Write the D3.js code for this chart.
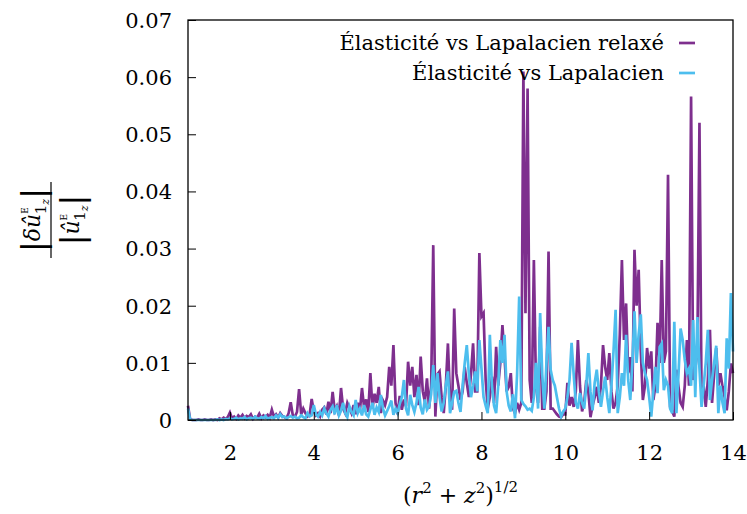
<!DOCTYPE html>
<html lang="fr">
<head>
    <meta charset="UTF-8">
    <script src="https://d3js.org/d3.v7.min.js"></script>
    <title>Elasticite</title>
    <style>
        body{ margin:0; background:#fff; }
        svg text{ font-family: "DejaVu Serif", "Liberation Serif", serif !important; fill:#000; }
    </style>
</head>
<body>
    <script>
        // sampling of (r^2+z^2)^(1/2): 1 to 14, step 0.05
        const xs = d3.range(261).map(i => 1 + i * 0.05);

        // values in units of 1e-3
        const relaxedMilli = [
            2.5,0.2,0,0,0,0.1,0,0,0.1,0,0,0.1,0,0.1,0,0.3,0.1,0.4,0.2,0.5,
            1.3,0.3,0.6,0.2,0.8,0.4,0.9,0.3,0.7,0.5,1.0,0.2,0.6,0.4,1.1,0.3,0.8,0.5,0.9,0.4,
            1.8,0.6,1.0,0.4,1.2,0.7,0.5,0.3,1.2,3.1,0.8,0.6,1.4,5.4,1.0,2.0,1.2,0.6,0.9,3.7,
            1.5,0.8,1.2,0.6,1.8,2.2,1.0,3.2,1.2,4.9,1.6,2.4,0.8,5.6,2.0,1.2,3.0,2.1,1.2,2.6,
            1.0,3.0,1.6,5.6,2.2,3.6,1.4,8.2,2.0,4.6,3.0,5.8,1.2,3.4,2.6,4.0,9.3,6.0,13.1,3.0,
            1.0,4.2,1.8,3.6,2.4,10.2,6.0,9.3,4.0,7.9,2.6,11.1,5.0,3.2,7.3,2.0,6.0,30.6,0.6,8.0,
            8.5,4.0,1.2,6.0,13.4,4.0,1.8,19.5,8.2,6.0,3.5,5.0,9.3,6.5,4.0,8.0,13.4,5.0,5.0,29.2,
            18.1,18.7,7.0,2.0,4.0,7.6,3.0,12.8,6.0,10.0,16.6,11.0,5.0,5.8,8.2,2.0,1.2,3.0,1.8,3.0,
            61,18.7,58,7.0,3.0,28,6.0,3.0,16.3,2.0,2.0,5.0,29.5,2.0,2.0,1.5,1.0,0.6,0.5,1.0,
            1.0,6.5,2.5,4.0,2.3,5.0,14.0,6.0,1.5,3.0,7.0,4.9,0.5,2.5,4.0,5.8,3.0,6.0,13.1,9.3,
            7.0,11.7,5.0,2.0,3.0,6.0,15.0,28.0,14.0,20.4,8.2,11.0,5.0,29.8,20.0,26.3,12.2,3.5,6.0,12.6,
            9.0,12.0,3.5,6.0,17.0,10.0,28.0,10.0,12.0,42.9,2.3,1.5,0.6,8.8,5.8,3.0,2.3,6.0,14.0,6.0,
            56.6,7.0,9.0,12.0,52.0,3.5,6.0,2.3,7.0,15.8,3.0,8.0,12.6,6.0,8.2,5.8,4.0,1.7,5.0,9.9,
            8.2
        ];
        const lapMilli = [
            2.0,0.1,0,0,0,0,0,0,0,0,0,0,0,0,0.1,0,0.1,0,0.2,0.1,
            0.3,0.1,0.2,0.4,0.1,0.3,0.2,0.5,0.1,0.3,0.4,0.2,0.6,0.3,0.2,0.5,0.3,0.7,0.2,0.4,
            0.5,0.3,0.8,0.4,1.0,0.5,0.6,0.3,0.5,0.7,0.4,0.6,0.3,0.4,0.8,0.5,0.3,1.2,0.6,0.8,
            2.6,1.0,0.6,1.4,0.8,2.0,1.2,0.6,1.8,2.4,1.0,2.6,0.8,1.6,3.0,1.2,0.5,2.4,1.4,0.8,
            3.5,1.2,2.0,0.8,2.6,1.0,0.6,1.8,3.0,0.9,2.2,1.4,4.4,2.0,0.8,1.6,2.4,3.4,0.9,2.0,
            1.2,2.8,4.0,7.0,2.0,0.8,4.4,2.6,1.4,3.0,5.8,2.2,1.0,3.6,1.8,2.4,4.5,9.6,3.0,8.2,
            4.0,1.5,3.0,6.0,8.5,1.2,3.0,4.9,5.1,3.0,1.4,6.0,9.9,13.1,8.0,4.0,6.0,8.5,5.0,14.0,
            9.0,4.0,2.5,1.2,14.9,6.0,2.5,1.2,6.0,14.0,10.0,14.9,5.0,2.5,1.5,4.5,0.3,8.0,21.6,3.5,
            2.8,2.4,1.8,2.0,1.6,4.0,10.0,2.0,18.7,8.0,2.0,10.0,16.3,8.8,7.0,6.0,4.0,2.0,0.6,1.5,
            2.0,4.0,7.0,13.5,8.0,3.0,2.0,4.7,3.0,2.0,6.0,11.7,5.0,1.7,6.5,8.8,5.0,2.3,5.0,7.6,
            4.0,1.2,6.0,12.0,19.3,1.2,4.0,8.2,6.0,14.9,7.0,3.5,10.0,19.0,10.0,15.0,18.5,10.0,8.2,7.0,
            4.0,0.6,5.0,9.3,4.7,12.8,13.4,5.2,7.0,6.0,2.0,1.2,17.2,1.2,8.0,16.0,14.0,10.5,8.2,9.0,
            6.0,17.5,4.0,18.0,9.0,2.3,6.0,10.0,15.8,3.5,7.0,10.0,13.0,1.2,6.0,3.0,1.2,14.3,9.0,22.2,
            12.0
        ];

        const xTicks = [2, 4, 6, 8, 10, 12, 14];
        const yTicks = [0, 10, 20, 30, 40, 50, 60, 70];
        const yTickLabels = ["0", "0.01", "0.02", "0.03", "0.04", "0.05", "0.06", "0.07"];
        const seriesNames = ["Élasticité vs Lapalacien relaxé", "Élasticité vs Lapalacien"];
        const seriesColors = ["#7E2F8E", "#4DBEEE"];

        const width = 747;
        const height = 514;
        const margin = {top: 20, right: 14, bottom: 94, left: 188};
        const serif = '"DejaVu Serif", "Liberation Serif", serif';

        const x = d3.scaleLinear()
            .domain([1, 14])
            .range([margin.left, width - margin.right]);
        const y = d3.scaleLinear()
            .domain([0, 70])
            .range([height - margin.bottom, margin.top]);

        const svg = d3.select('body')
            .append('svg')
            .attr('width', width)
            .attr('height', height)
            .attr('font-family', serif);

        const line = d3.line()
            .x((d, i) => x(xs[i]))
            .y(d => y(d));

        [relaxedMilli, lapMilli].forEach((vals, k) => {
            svg.append('path')
                .datum(vals)
                .attr('fill', 'none')
                .attr('stroke', seriesColors[k])
                .attr('stroke-width', 2.7)
                .attr('d', line);
        });

        // axes, ticks pointing inward
        const xAxis = d3.axisBottom(x)
            .tickValues(xTicks)
            .tickSize(-8)
            .tickPadding(22);
        const yAxis = d3.axisLeft(y)
            .tickValues(yTicks)
            .tickFormat((d, i) => yTickLabels[i])
            .tickSize(-8)
            .tickPadding(16);

        const gx = svg.append('g')
            .attr('transform', `translate(0, ${y(0)})`)
            .call(xAxis);
        const gy = svg.append('g')
            .attr('transform', `translate(${margin.left}, 0)`)
            .call(yAxis);

        [gx, gy].forEach(g => {
            g.attr('font-family', serif).attr('font-size', 21);
            g.select('.domain').remove();
            g.selectAll('line').attr('stroke', '#000').attr('stroke-width', 1);
            g.selectAll('text').attr('fill', '#000');
        });
        gx.selectAll('text').attr('dy', '0.85em');
        gy.selectAll('text').attr('dy', '0.35em');

        // frame
        svg.append('rect')
            .attr('x', margin.left)
            .attr('y', margin.top)
            .attr('width', width - margin.left - margin.right)
            .attr('height', height - margin.top - margin.bottom)
            .attr('fill', 'none')
            .attr('stroke', '#000')
            .attr('stroke-width', 1.3);

        // legend
        const legend = svg.append('g');
        seriesNames.forEach((name, k) => {
            const ly = 43 + k * 30;
            legend.append('text')
                .attr('x', 664)
                .attr('y', ly)
                .attr('dy', '0.32em')
                .attr('text-anchor', 'end')
                .attr('font-size', 21)
                .text(name);
            legend.append('line')
                .attr('x1', 679).attr('x2', 695)
                .attr('y1', ly).attr('y2', ly)
                .attr('stroke', seriesColors[k])
                .attr('stroke-width', 2.7);
        });

        // x label (r^2 + z^2)^{1/2}
        const xl = svg.append('text')
            .attr('x', x(7.5))
            .attr('y', 503)
            .attr('text-anchor', 'middle')
            .attr('font-size', 22);
        xl.append('tspan').text('(');
        xl.append('tspan').attr('font-style', 'italic').text('r');
        xl.append('tspan').attr('font-size', 15).attr('dy', -10).text('2');
        xl.append('tspan').attr('dy', 10).text(' + ');
        xl.append('tspan').attr('font-style', 'italic').text('z');
        xl.append('tspan').attr('font-size', 15).attr('dy', -10).text('2');
        xl.append('tspan').attr('dy', 10).text(')');
        xl.append('tspan').attr('font-size', 15).attr('dy', -11).text('1/2');

        // y label: |δû^E_{1z}| / |û^E_{1z}|
        const yl = svg.append('g')
            .attr('transform', 'translate(51, 220) rotate(-90)');
        function hatTerm(g, prefix, baseline) {
            const t = g.append('text')
                .attr('x', 0)
                .attr('y', baseline)
                .attr('text-anchor', 'middle')
                .attr('font-size', 22);
            t.append('tspan').attr('font-size', 32).attr('font-weight', 300).attr('dy', 4).text('|');
            if (prefix) t.append('tspan').attr('dy', -4).attr('font-style', 'italic').text(prefix);
            t.append('tspan').attr('dy', prefix ? 0 : -4).attr('font-style', 'italic').text('û');
            t.append('tspan').attr('font-size', 9).attr('dy', -12).text('E');
            t.append('tspan').attr('font-size', 15).attr('dx', -7).attr('dy', 18).text('1');
            t.append('tspan').attr('font-size', 11).attr('font-style', 'italic').attr('dy', 3).text('z');
            t.append('tspan').attr('font-size', 32).attr('font-weight', 300).attr('dy', -5).text('|');
        }
        hatTerm(yl, 'δ', -11);
        yl.append('line')
            .attr('x1', -38).attr('x2', 38)
            .attr('y1', 0).attr('y2', 0)
            .attr('stroke', '#000').attr('stroke-width', 1.2);
        hatTerm(yl, '', 28);
    </script>
</body>
</html>
